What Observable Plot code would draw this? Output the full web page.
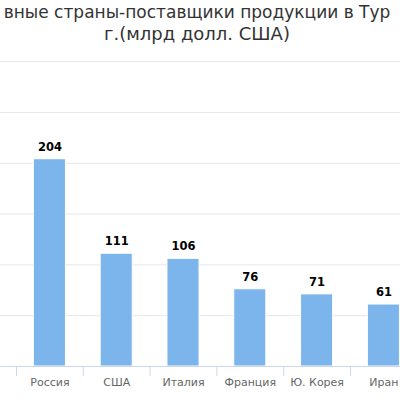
<!DOCTYPE html>
<html>
<head>
<meta charset="utf-8">
<script src="https://cdn.jsdelivr.net/npm/d3@7"></script>
<script src="https://cdn.jsdelivr.net/npm/@observablehq/plot@0.6"></script>
<style>
  html, body { margin: 0; padding: 0; background: #fff; }
  body { width: 400px; height: 400px; overflow: hidden; position: relative; }
  #title {
    position: relative; width: 700px; left: -153px; height: 52px;
    text-align: center; white-space: nowrap;
    font-family: "DejaVu Sans", sans-serif; font-size: 17px; color: #333; line-height: 21px;
    padding-top: 2px; box-sizing: border-box;
  }
  #title .l2 { font-size: 18px; }
</style>
</head>
<body>
<div id="title">вные страны-поставщики продукции в Тур<br><span class="l2">г.(млрд долл. США)</span></div>
<div id="chart"></div>
<script>
const countries = ["Россия", "США", "Италия", "Франция", "Ю. Корея", "Иран"];
const values = [204, 111, 106, 76, 71, 61];
const gridTicks = [50, 100, 150, 200, 250, 300];

const data = countries.map((c, i) => ({ country: c, value: values[i] }));

const plot = Plot.plot({
  width: 400,
  height: 348,
  marginLeft: 0,
  marginRight: 0,
  marginTop: 0,
  marginBottom: 0,
  style: { fontFamily: "DejaVu Sans, sans-serif", background: "#fff" },
  x: { domain: countries, range: [16, 416.8], paddingInner: 0.52, paddingOuter: 0.26, round: false, axis: null },
  y: { domain: [0, 300], range: [314, 9.2], axis: null },
  marks: [
    Plot.gridY(gridTicks, { stroke: "#e6e6e6", strokeOpacity: 1 }),
    Plot.barY(data, { x: "country", y: "value", fill: "#7cb5ec", stroke: "#fff", strokeWidth: 1 }),
    Plot.ruleY([0], { stroke: "#ccd6eb" }),
    // category boundary ticks
    Plot.ruleX(countries, { x: d => d, y1: 0, y2: -10, stroke: "#ccd6eb", dx: -33.4 }),
    Plot.text(data, {
      x: "country", y: "value", text: d => String(d.value), dy: -12,
      fontWeight: "bold", fontSize: 11.5, fill: "#000"
    }),
    // category labels under the axis
    Plot.text(countries, {
      x: d => d, y: 0, dy: 16, text: d => d, fontSize: 11, fill: "#666"
    })
  ]
});
document.getElementById("chart").append(plot);
</script>
</body>
</html>
